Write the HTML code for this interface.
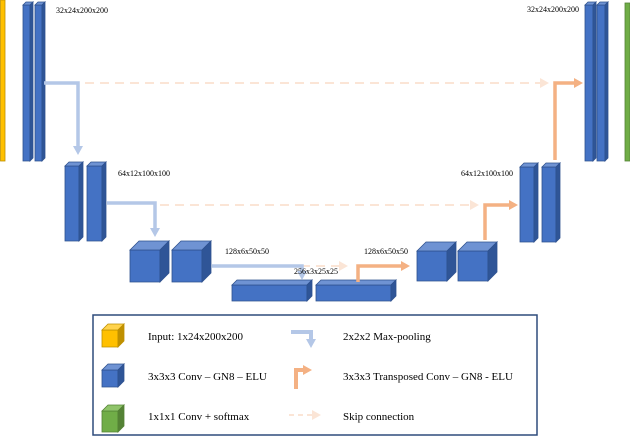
<!DOCTYPE html>
<html><head><meta charset="utf-8"><style>
html,body{margin:0;padding:0;background:#fff;}
svg{display:block;}
text{font-family:"Liberation Serif",serif;fill:#000;}
</style></head><body>
<svg width="630" height="436" viewBox="0 0 630 436" xmlns="http://www.w3.org/2000/svg">
<defs>
<marker id="ab" markerWidth="9" markerHeight="10" refX="2" refY="5" orient="auto" markerUnits="userSpaceOnUse"><path d="M0,0 L9,5 L0,10 z" fill="#b4c7e7"/></marker>
<marker id="ao" markerWidth="9" markerHeight="10" refX="2" refY="5" orient="auto" markerUnits="userSpaceOnUse"><path d="M0,0 L9,5 L0,10 z" fill="#f4b183"/></marker>
<marker id="as" markerWidth="9" markerHeight="10" refX="1" refY="5" orient="auto" markerUnits="userSpaceOnUse"><path d="M0,0 L9,5 L0,10 z" fill="#fbe5d6"/></marker>
</defs>
<g stroke="#2f528f" stroke-width="0.8">
<g id="boxes"></g>
</g>
<rect x="0.5" y="0" width="4.5" height="161" fill="#ffc000" stroke="#bf9000" stroke-width="0.8"/>
<rect x="625" y="3" width="5" height="158" fill="#70ad47" stroke="#548235" stroke-width="0.8"/>

<g stroke="#fbe5d6" stroke-width="2" stroke-dasharray="9,6" fill="none">
<line x1="85" y1="83" x2="541" y2="83" marker-end="url(#as)"/>
<line x1="160" y1="205" x2="471" y2="205" marker-end="url(#as)"/>
<line x1="286" y1="266" x2="340" y2="266" marker-end="url(#as)"/>
</g>
<g stroke="#b4c7e7" stroke-width="3.5" fill="none">
<polyline points="44,83 78,83 78,148" marker-end="url(#ab)"/>
<polyline points="107,203 155,203 155,230" marker-end="url(#ab)"/>
<polyline points="212,266 302,266 302,273" marker-end="url(#ab)"/>
</g>
<g stroke="#f4b183" stroke-width="3.5" fill="none">
<polyline points="358,282 358,266 403,266" marker-end="url(#ao)"/>
<polyline points="485,240 485,205 511,205" marker-end="url(#ao)"/>
<polyline points="555,160 555,83 576,83" marker-end="url(#ao)"/>
</g>

<g font-size="8">
<text x="56" y="13">32x24x200x200</text>
<text x="118" y="176">64x12x100x100</text>
<text x="225" y="254">128x6x50x50</text>
<text x="294" y="274">256x3x25x25</text>
<text x="364" y="254">128x6x50x50</text>
<text x="461" y="176">64x12x100x100</text>
<text x="527" y="12">32x24x200x200</text>
</g>

<rect x="93" y="315" width="444" height="120" fill="none" stroke="#2f4b7c" stroke-width="1.5"/>
<g stroke="#b4c7e7" stroke-width="4" fill="none"><polyline points="291,332 311,332 311,341" marker-end="url(#ab)"/></g>
<g stroke="#f4b183" stroke-width="4" fill="none"><polyline points="296,389 296,370 305,370" marker-end="url(#ao)"/></g>
<line x1="289" y1="415" x2="313" y2="415" stroke="#fbe5d6" stroke-width="2" stroke-dasharray="5,4" marker-end="url(#as)"/>
<g font-size="11">
<text x="148" y="340">Input: 1x24x200x200</text>
<text x="148" y="380">3x3x3 Conv – GN8 – ELU</text>
<text x="148" y="420">1x1x1 Conv + softmax</text>
<text x="343" y="340">2x2x2 Max-pooling</text>
<text x="343" y="380">3x3x3 Transposed Conv – GN8 - ELU</text>
<text x="343" y="420">Skip connection</text>
</g>
<script>
var g=document.getElementById('boxes');
function box(x,y,w,h,d,f,t,s,st){
 var ns='http://www.w3.org/2000/svg';
 function p(pts,fill){var e=document.createElementNS(ns,'polygon');e.setAttribute('points',pts);e.setAttribute('fill',fill);if(st)e.setAttribute('stroke',st);g.appendChild(e);}
 p([x,y,x+w,y,x+w,y+h,x,y+h].join(','),f);
 p([x,y,x+d,y-d,x+w+d,y-d,x+w,y].join(','),t);
 p([x+w,y,x+w+d,y-d,x+w+d,y+h-d,x+w,y+h].join(','),s);
}
var B=['#4472c4','#6f93d3','#2f5597'];
box(23,5,7,156,3,B[0],B[1],B[2]);box(35,5,7,156,3,B[0],B[1],B[2]);
box(585,5,8,156,3,B[0],B[1],B[2]);box(597,5,8,156,3,B[0],B[1],B[2]);
box(65,166,14,75,4,B[0],B[1],B[2]);box(87,166,15,75,4,B[0],B[1],B[2]);
box(520,167,14,75,4,B[0],B[1],B[2]);box(542,167,14,75,4,B[0],B[1],B[2]);
box(130,250,30,32,9,B[0],B[1],B[2]);box(172,250,30,32,9,B[0],B[1],B[2]);
box(417,251,30,30,9,B[0],B[1],B[2]);box(458,251,30,30,9,B[0],B[1],B[2]);
box(232,285,75,16,5,B[0],B[1],B[2]);box(316,285,75,16,5,B[0],B[1],B[2]);
box(102,330,16,17,6,'#ffc000','#ffd34d','#bf9000','#bf9000');
box(102,370,16,17,6,B[0],B[1],B[2]);
box(102,411,16,21,6,'#70ad47','#8fc46a','#548235','#548235');
</script>
</svg>
</body></html>
